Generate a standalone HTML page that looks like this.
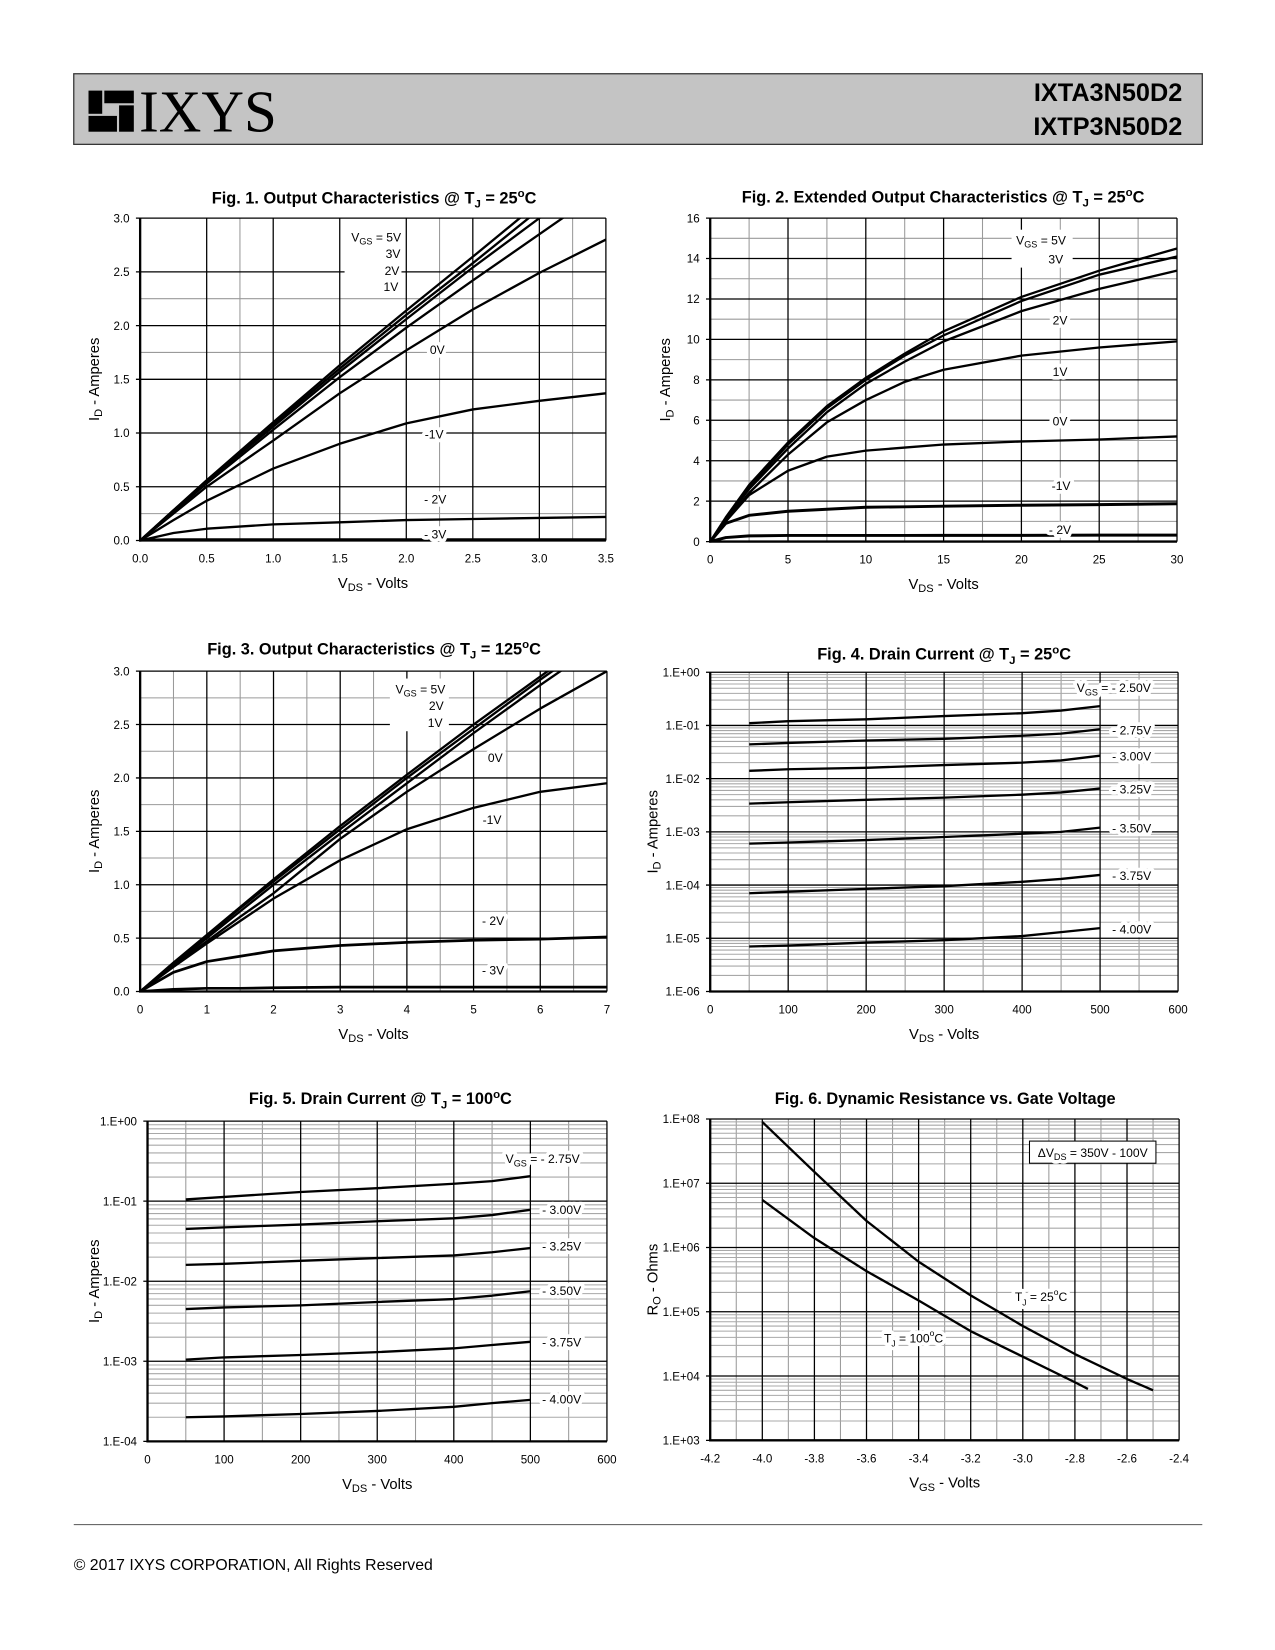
<!DOCTYPE html>
<html><head><meta charset="utf-8"><style>
html,body{margin:0;padding:0;background:#fff;width:1275px;height:1650px;overflow:hidden}
svg{display:block;font-family:"Liberation Sans",Arial,sans-serif}
.t{font-size:11px;fill:#000}
.lbl{font-size:11.5px;fill:#000}
.halo{font-size:11.5px;fill:#fff;stroke:#fff;stroke-width:7px;stroke-linejoin:round}
.ax{font-size:14px}
.ttl{font-size:15.5px;font-weight:bold}
</style></head><body>
<svg id="page" width="1275" height="1650" viewBox="0 0 1210 1566" preserveAspectRatio="none" xmlns="http://www.w3.org/2000/svg">
<g>
<rect x="70" y="70" width="1071" height="67" fill="#c4c4c4" stroke="#333" stroke-width="1.2"/>
<g>
<rect x="84" y="86" width="13" height="22" fill="#000"/>
<rect x="84" y="110" width="27" height="15" fill="#000"/>
<rect x="99" y="86" width="28" height="12" fill="#000"/>
<rect x="113" y="100" width="14" height="25" fill="#000"/>
<text x="132" y="125" font-family="Liberation Serif,serif" font-size="56" fill="#000">IXYS</text>
</g>
<text x="1122" y="96" text-anchor="end" font-size="24" font-weight="bold">IXTA3N50D2</text>
<text x="1122" y="128" text-anchor="end" font-size="24" font-weight="bold">IXTP3N50D2</text>
</g>
<line x1="70" y1="1447" x2="1141" y2="1447" stroke="#555" stroke-width="1"/>
<text x="70" y="1490" font-size="15">© 2017 IXYS CORPORATION,  All Rights Reserved</text>
</svg>
<script>
// ---------- DATA ----------
const fig1X=[0,0.25,0.5,1,1.5,2,2.5,3,3.5];
const fig1_5V=[0,0.28,0.56,1.1,1.63,2.14,2.64,3.15,3.65];
const fig1_3V=[0,0.28,0.56,1.08,1.6,2.1,2.58,3.08,3.55];
const fig1_2V=[0,0.28,0.55,1.06,1.57,2.06,2.54,3.0,3.45];
const fig1_1V=[0,0.27,0.53,1.03,1.52,1.98,2.42,2.85,3.28];
const fig1_0V=[0,0.25,0.5,0.93,1.37,1.77,2.15,2.49,2.8];
const fig1_m1V=[0,0.19,0.37,0.67,0.9,1.09,1.22,1.3,1.37];
const fig1_m2V=[0,0.07,0.11,0.15,0.17,0.19,0.2,0.21,0.22];
const fig1_m3V=[0,0.004,0.004,0.004,0.004,0.004,0.004,0.004,0.004];

const fig2X=[0,1,2.5,5,7.5,10,12.5,15,20,25,30];
const fig2_5V=[0,1.2,2.8,4.9,6.7,8.1,9.3,10.4,12.1,13.4,14.5];
const fig2_3V=[0,1.15,2.7,4.8,6.6,8.0,9.2,10.2,11.9,13.2,14.1];
const fig2_2V=[0,1.1,2.6,4.6,6.4,7.8,8.9,9.9,11.4,12.5,13.4];
const fig2_1V=[0,1.0,2.4,4.3,5.9,7.0,7.9,8.5,9.2,9.6,9.9];
const fig2_0V=[0,1.0,2.3,3.5,4.2,4.5,4.65,4.8,4.95,5.05,5.2];
const fig2_m1V=[0,0.9,1.3,1.5,1.6,1.7,1.72,1.75,1.8,1.83,1.87];
const fig2_m2V=[0,0.2,0.28,0.3,0.3,0.3,0.3,0.31,0.31,0.32,0.32];

const fig3X=[0,0.5,1,1.5,2,3,4,5,6,7];
const fig3_5V=[0,0.27,0.53,0.79,1.05,1.55,2.03,2.5,2.95,3.4];
const fig3_2V=[0,0.26,0.52,0.78,1.03,1.52,2.0,2.46,2.92,3.36];
const fig3_1V=[0,0.25,0.5,0.75,1.0,1.48,1.95,2.42,2.87,3.3];
const fig3_0V=[0,0.24,0.47,0.7,0.92,1.43,1.87,2.27,2.65,3.0];
const fig3_m1V=[0,0.23,0.45,0.66,0.87,1.23,1.52,1.72,1.87,1.95];
const fig3_m2V=[0,0.18,0.28,0.33,0.38,0.43,0.46,0.48,0.49,0.51];
const fig3_m3V=[0,0.02,0.03,0.03,0.035,0.04,0.04,0.04,0.04,0.04];

const drainX=[50,100,200,300,400,450,500];
const fig4_250=[0.11,0.12,0.13,0.15,0.17,0.19,0.23];
const fig4_275=[0.044,0.047,0.052,0.056,0.064,0.07,0.085];
const fig4_300=[0.014,0.015,0.016,0.018,0.02,0.022,0.027];
const fig4_325=[0.0034,0.0036,0.004,0.0044,0.005,0.0055,0.0065];
const fig4_350=[0.0006,0.00063,0.0007,0.0008,0.00092,0.001,0.0012];
const fig4_375=[7e-5,7.5e-5,8.5e-5,9.5e-5,1.15e-4,1.3e-4,1.55e-4];
const fig4_400=[7e-6,7.3e-6,8.3e-6,9.2e-6,1.1e-5,1.3e-5,1.55e-5];

const fig5_275=[0.105,0.113,0.13,0.145,0.165,0.178,0.205];
const fig5_300=[0.045,0.047,0.051,0.056,0.061,0.067,0.078];
const fig5_325=[0.016,0.0165,0.018,0.0195,0.021,0.023,0.026];
const fig5_350=[0.0045,0.0047,0.005,0.0055,0.006,0.0066,0.0075];
const fig5_375=[0.00105,0.00112,0.0012,0.0013,0.00145,0.0016,0.00175];
const fig5_400=[0.0002,0.000205,0.00022,0.00024,0.00027,0.0003,0.00033];

const fig6X25=[-4.0,-3.8,-3.6,-3.4,-3.2,-3.0,-2.8,-2.6,-2.5];
const fig6R25=[9e7,1.5e7,2.6e6,6e5,1.8e5,6e4,2.2e4,9e3,6e3];
const fig6X100=[-4.0,-3.8,-3.6,-3.4,-3.2,-3.0,-2.8,-2.75];
const fig6R100=[5.5e6,1.4e6,4.3e5,1.5e5,5e4,2e4,8e3,6.3e3];

const fig1Ticks=["0.0","0.5","1.0","1.5","2.0","2.5","3.0","3.5"];
const fig1YTicks=["0.0","0.5","1.0","1.5","2.0","2.5","3.0"];
const fig2XTicks=["0","5","10","15","20","25","30"];
const fig2YTicks=["0","2","4","6","8","10","12","14","16"];
const fig3XTicks=["0","1","2","3","4","5","6","7"];
const drainXTicks=["0","100","200","300","400","500","600"];
const fig4YTicks=["1.E-06","1.E-05","1.E-04","1.E-03","1.E-02","1.E-01","1.E+00"];
const fig5YTicks=["1.E-04","1.E-03","1.E-02","1.E-01","1.E+00"];
const fig6XTicks=["-4.2","-4.0","-3.8","-3.6","-3.4","-3.2","-3.0","-2.8","-2.6","-2.4"];
const fig6YTicks=["1.E+03","1.E+04","1.E+05","1.E+06","1.E+07","1.E+08"];

// ---------- DRAWING ----------
const NS='http://www.w3.org/2000/svg';
const svg=document.getElementById('page');
function mk(tag,parent){const e=document.createElementNS(NS,tag);parent.appendChild(e);return e;}
let clipId=0;
function chart(c){
  const g=mk('g',svg);
  
  
  const sx=v=>c.L+(v-c.x0)/(c.x1-c.x0)*(c.R-c.L);
  const sy=c.log?(v=>c.B-(Math.log10(v)-c.y0)/(c.y1-c.y0)*(c.B-c.T)):(v=>c.B-(v-c.y0)/(c.y1-c.y0)*(c.B-c.T));
  const line=(x1,y1,x2,y2,col,w)=>{const l=mk('line',g);l.setAttribute('x1',x1);l.setAttribute('y1',y1);l.setAttribute('x2',x2);l.setAttribute('y2',y2);l.setAttribute('stroke',col);l.setAttribute('stroke-width',w);return l;};
  (c.xMinor||[]).forEach(v=>line(sx(v),c.T,sx(v),c.B,'#9a9a9a',1));
  if(c.log){for(let d=c.y0;d<c.y1;d++)for(let k=2;k<10;k++){const y=sy(k*Math.pow(10,d));line(c.L,y,c.R,y,'#a8a8a8',1);}}
  else (c.yMinor||[]).forEach(v=>line(c.L,sy(v),c.R,sy(v),'#9a9a9a',1));
  c.xTicks.forEach((t,i)=>{const v=c.x0+i*c.xStep;const x=sx(v);line(x,c.T,x,c.B,'#000',1.2);
    const tx=mk('text',g);tx.setAttribute('class','t');tx.setAttribute('x',x);tx.setAttribute('y',c.B+21);tx.setAttribute('text-anchor','middle');tx.textContent=t;
    
    });
  c.yTicks.forEach((t,i)=>{const v=c.y0+i*c.yStep;const y=c.log?sy(Math.pow(10,v)):sy(v);line(c.L-4,y,c.R,y,'#000',1.2);
    const tx=mk('text',g);tx.setAttribute('class','t');tx.setAttribute('x',c.L-10);tx.setAttribute('y',y+4);tx.setAttribute('text-anchor','end');tx.textContent=t;
    
    });
  line(c.L,c.T,c.L,c.B+1,'#000',2.2);line(c.L-1,c.B,c.R,c.B,'#000',2.2);
  const cp=mk('clipPath',g);cp.setAttribute('id','cp'+(++clipId));
  const cr=mk('rect',cp);cr.setAttribute('x',c.L);cr.setAttribute('y',c.T);cr.setAttribute('width',c.R-c.L);cr.setAttribute('height',c.B-c.T);
  const sg=mk('g',g);sg.setAttribute('clip-path','url(#cp'+clipId+')');
  c.series.forEach(s=>{
    const p=mk('polyline',sg);
    p.setAttribute('points',s.x.map((xv,i)=>sx(xv).toFixed(1)+','+sy(s.y[i]).toFixed(1)).join(' '));
    p.setAttribute('fill','none');p.setAttribute('stroke','#000');p.setAttribute('stroke-width',s.w||2.2);p.setAttribute('stroke-linejoin','round');
    
    
  });
  const lg=mk('g',g);
  lg.innerHTML=c.labels;
  const tt=mk('text',g);tt.setAttribute('class','ttl');tt.setAttribute('x',c.tx);tt.setAttribute('y',c.ty);tt.setAttribute('text-anchor','middle');tt.innerHTML=c.title;
  
  
  const xt=mk('text',g);xt.setAttribute('class','ax');xt.setAttribute('x',(c.L+c.R)/2);xt.setAttribute('y',c.B+45);xt.setAttribute('text-anchor','middle');xt.innerHTML=c.xTitle;
  
  
  const yt=mk('text',g);yt.setAttribute('class','ax');const ycx=c.yTx,ycy=(c.T+c.B)/2;
  yt.setAttribute('x',ycx);yt.setAttribute('y',ycy);yt.setAttribute('text-anchor','middle');yt.setAttribute('transform','rotate(-90 '+ycx+' '+ycy+')');yt.innerHTML=c.yTitle;
  
  
}
const sub=(a,b)=>a+'<tspan font-size="0.75em" dy="3">'+b+'</tspan><tspan dy="-3">';
const L=(x,y,s,a)=>'<text class="halo" x="'+x+'" y="'+y+'" text-anchor="'+(a||'middle')+'">'+s+'</text><text class="lbl" x="'+x+'" y="'+y+'" text-anchor="'+(a||'middle')+'">'+s+'</text>';
const VDS=sub('V','DS')+' - Volts</tspan>';
const IDA=sub('I','D')+' - Amperes</tspan>';
const sup='<tspan font-size="0.7em" dy="-6">o</tspan><tspan dy="6">C</tspan>';
const TJ='T<tspan font-size="0.7em" dy="4">J</tspan><tspan dy="-4"> = ';
const rng=(a,b,s)=>{const r=[];for(let v=a;v<=b+1e-9;v+=s)r.push(+v.toFixed(4));return r;};

chart({name:'fig1-output-25c',L:133,R:575,T:207,B:513,x0:0,x1:3.5,y0:0,y1:3,xStep:0.5,yStep:0.5,
 xTicks:fig1Ticks,yTicks:fig1YTicks,xMinor:[0.75,2.25,3.25],yMinor:[0.25,1.75,2.25],
 series:[{name:'vgs-5v',x:fig1X,y:fig1_5V},{name:'vgs-3v',x:fig1X,y:fig1_3V},{name:'vgs-2v',x:fig1X,y:fig1_2V},{name:'vgs-1v',x:fig1X,y:fig1_1V},{name:'vgs-0v',x:fig1X,y:fig1_0V},{name:'vgs-m1v',x:fig1X,y:fig1_m1V},{name:'vgs-m2v',x:fig1X,y:fig1_m2V},{name:'vgs-m3v',x:fig1X,y:fig1_m3V,w:3.5}],
 labels:'<rect x="327" y="214" width="54" height="64" fill="#fff"/>'+L(357,229,sub('V','GS')+' = 5V</tspan>')+L(373,245,'3V')+L(372,261,'2V')+L(371,276,'1V')+L(415,336,'0V')+L(412,416,'-1V')+L(413,478,'- 2V')+L(413,511,'- 3V'),
 title:'Fig. 1. Output Characteristics @ '+TJ+'25'+sup+'</tspan>',tx:355,ty:193,xTitle:VDS,yTitle:IDA,yTx:94});

chart({name:'fig2-extended-output-25c',L:674,R:1117,T:207,B:514,x0:0,x1:30,y0:0,y1:16,xStep:5,yStep:2,
 xTicks:fig2XTicks,yTicks:fig2YTicks,xMinor:rng(2.5,27.5,5),yMinor:rng(1,15,2),
 series:[{name:'vgs-5v',x:fig2X,y:fig2_5V},{name:'vgs-3v',x:fig2X,y:fig2_3V},{name:'vgs-2v',x:fig2X,y:fig2_2V},{name:'vgs-1v',x:fig2X,y:fig2_1V},{name:'vgs-0v',x:fig2X,y:fig2_0V},{name:'vgs-m1v',x:fig2X,y:fig2_m1V,w:2.8},{name:'vgs-m2v',x:fig2X,y:fig2_m2V,w:2.8}],
 labels:'<rect x="960" y="218" width="58" height="36" fill="#fff"/>'+L(988,232,sub('V','GS')+' = 5V</tspan>')+L(1002,250,'3V')+L(1006,308,'2V')+L(1006,357,'1V')+L(1006,404,'0V')+L(1007,465,'-1V')+L(1006,507,'- 2V'),
 title:'Fig. 2. Extended Output Characteristics @ '+TJ+'25'+sup+'</tspan>',tx:895,ty:192,xTitle:VDS,yTitle:IDA,yTx:636});

chart({name:'fig3-output-125c',L:133,R:576,T:637,B:941,x0:0,x1:7,y0:0,y1:3,xStep:1,yStep:0.5,
 xTicks:fig3XTicks,yTicks:fig1YTicks,xMinor:rng(0.5,6.5,1),yMinor:rng(0.25,2.75,0.5),
 series:[{name:'vgs-5v',x:fig3X,y:fig3_5V},{name:'vgs-2v',x:fig3X,y:fig3_2V},{name:'vgs-1v',x:fig3X,y:fig3_1V},{name:'vgs-0v',x:fig3X,y:fig3_0V},{name:'vgs-m1v',x:fig3X,y:fig3_m1V},{name:'vgs-m2v',x:fig3X,y:fig3_m2V,w:2.6},{name:'vgs-m3v',x:fig3X,y:fig3_m3V,w:2.6}],
 labels:'<rect x="370" y="644" width="56" height="50" fill="#fff"/>'+L(399,658,sub('V','GS')+' = 5V</tspan>')+L(414,674,'2V')+L(413,690,'1V')+L(470,723,'0V')+L(467,782,'-1V')+L(468,878,'- 2V')+L(468,925,'- 3V'),
 title:'Fig. 3. Output Characteristics @ '+TJ+'125'+sup+'</tspan>',tx:355,ty:621,xTitle:VDS,yTitle:IDA,yTx:94});

chart({name:'fig4-drain-current-25c',L:674,R:1118,T:638,B:941,log:true,x0:0,x1:600,y0:-6,y1:0,xStep:100,yStep:1,
 xTicks:drainXTicks,yTicks:fig4YTicks,xMinor:rng(50,550,100),
 series:[{name:'vgs-m2.50v',x:drainX,y:fig4_250},{name:'vgs-m2.75v',x:drainX,y:fig4_275},{name:'vgs-m3.00v',x:drainX,y:fig4_300},{name:'vgs-m3.25v',x:drainX,y:fig4_325},{name:'vgs-m3.50v',x:drainX,y:fig4_350},{name:'vgs-m3.75v',x:drainX,y:fig4_375},{name:'vgs-m4.00v',x:drainX,y:fig4_400}],
 labels:L(1057,657,sub('V','GS')+' = - 2.50V</tspan>')+L(1074,697,'- 2.75V')+L(1074,722,'- 3.00V')+L(1074,753,'- 3.25V')+L(1074,790,'- 3.50V')+L(1074,835,'- 3.75V')+L(1074,886,'- 4.00V'),
 title:'Fig. 4. Drain Current @ '+TJ+'25'+sup+'</tspan>',tx:896,ty:626,xTitle:VDS,yTitle:IDA,yTx:624});

chart({name:'fig5-drain-current-100c',L:140,R:576,T:1064,B:1368,log:true,x0:0,x1:600,y0:-4,y1:0,xStep:100,yStep:1,
 xTicks:drainXTicks,yTicks:fig5YTicks,xMinor:rng(50,550,100),
 series:[{name:'vgs-m2.75v',x:drainX,y:fig5_275},{name:'vgs-m3.00v',x:drainX,y:fig5_300},{name:'vgs-m3.25v',x:drainX,y:fig5_325},{name:'vgs-m3.50v',x:drainX,y:fig5_350},{name:'vgs-m3.75v',x:drainX,y:fig5_375},{name:'vgs-m4.00v',x:drainX,y:fig5_400}],
 labels:L(515,1104,sub('V','GS')+' = - 2.75V</tspan>')+L(533,1152,'- 3.00V')+L(533,1187,'- 3.25V')+L(533,1229,'- 3.50V')+L(533,1278,'- 3.75V')+L(533,1332,'- 4.00V'),
 title:'Fig. 5. Drain Current @ '+TJ+'100'+sup+'</tspan>',tx:361,ty:1048,xTitle:VDS,yTitle:IDA,yTx:94});

chart({name:'fig6-dynamic-resistance',L:674,R:1119,T:1062,B:1367,log:true,x0:-4.2,x1:-2.4,y0:3,y1:8,xStep:0.2,yStep:1,
 xTicks:fig6XTicks,yTicks:fig6YTicks,xMinor:rng(-4.1,-2.5,0.2),
 series:[{name:'tj-25c',x:fig6X25,y:fig6R25},{name:'tj-100c',x:fig6X100,y:fig6R100}],
 labels:'<rect x="977" y="1083" width="120" height="21" fill="#fff" stroke="#000" stroke-width="1"/>'+L(1037,1098,'ΔV<tspan font-size="0.75em" dy="3">DS</tspan><tspan dy="-3"> = 350V - 100V</tspan>')+L(988,1235,TJ+'25'+sup+'</tspan>')+L(867,1274,TJ+'100'+sup+'</tspan>'),
 title:'Fig. 6. Dynamic Resistance vs. Gate Voltage',tx:897,ty:1048,xTitle:sub('V','GS')+' - Volts</tspan>',yTitle:sub('R','O')+' - Ohms</tspan>',yTx:624});
</script>
</body></html>
